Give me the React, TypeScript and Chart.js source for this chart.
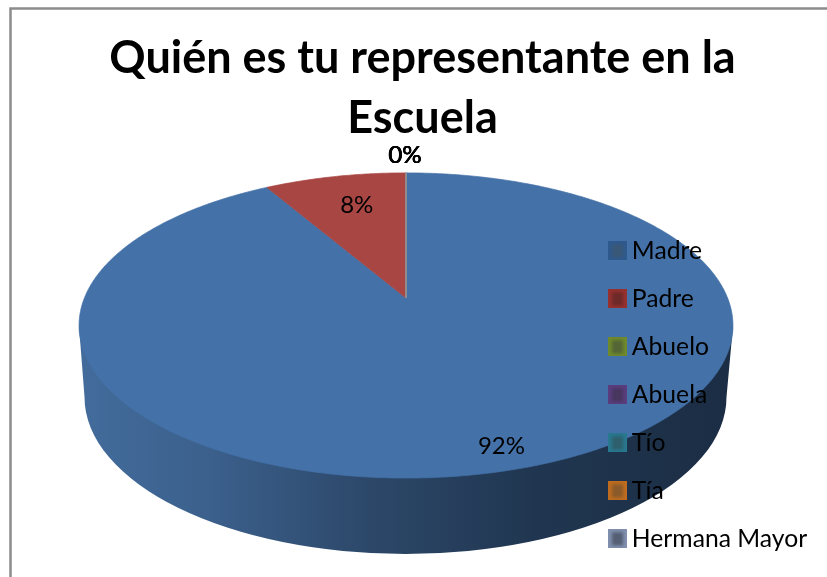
import React, { useEffect, useRef } from "react";
import { Chart, registerables } from "chart.js";

Chart.register(...registerables);

const categories = ["Madre", "Padre", "Abuelo", "Abuela", "Tío", "Tía", "Hermana Mayor"];
const counts = [11, 1, 0, 0, 0, 0, 0];
const titleLines = ["Quién es tu representante en la", "Escuela"];
const sliceColors = ["#4471a7", "#a84644", "#8aa64a", "#6f5690", "#3e96ae", "#d9873c", "#8a9ab8"];
const markerOuter = ["#2f5a8e", "#96312f", "#6f8a2c", "#5a3d7d", "#28788f", "#bf6c1e", "#7f8fad"];
const markerInner = ["#3a5878", "#6e2a28", "#546636", "#48365f", "#2f5f6c", "#8a5a2a", "#555f74"];

const FONT = "Lato";
const FRAME = "#8c8c8c";

// perspective of the pie's top face
const CX = 406;
const APEX_Y = 298;
const K = 321.6;
const A = 94;
const C = -0.18;
const project = (u: number, v: number): [number, number] => {
  const d = C * v + 1;
  return [CX + (K * u) / d, (A * v + APEX_Y) / d];
};

const labelAnchors = [
  { r: 0.88, dx: 9, dy: 0 },
  { r: 0.735, dx: 5, dy: 0 },
  { r: 1.173, dx: -1.4, dy: 0 },
  { r: 1.173, dx: -1, dy: 0 },
  { r: 1.173, dx: -0.8, dy: 0 },
  { r: 1.173, dx: -0.6, dy: 0 },
  { r: 1.173, dx: -1.2, dy: 0 },
];

function makeMarker(outer: string, inner: string) {
  const c = document.createElement("canvas");
  c.width = 19;
  c.height = 19;
  const g = c.getContext("2d")!;
  g.fillStyle = outer;
  g.fillRect(0, 0, 19, 19);
  g.filter = "blur(1.5px)";
  g.fillStyle = inner;
  g.fillRect(4, 3, 11, 13);
  g.filter = "none";
  return c;
}

const piePlugin = {
  id: "perspectivePie",
  afterLayout(chart: any) {
    const lg = chart.legend;
    lg.left = 592.2;
    lg.right = 845;
    lg.top = 215.2;
    lg.bottom = 577;
  },
  beforeDraw(chart: any) {
    const ctx = chart.ctx;
    ctx.save();
    ctx.fillStyle = "#ffffff";
    ctx.fillRect(0, 0, chart.width, chart.height);
    ctx.strokeStyle = FRAME;
    ctx.lineWidth = 2.5;
    ctx.beginPath();
    ctx.moveTo(10.5, chart.height + 5);
    ctx.lineTo(10.5, 8.5);
    ctx.lineTo(chart.width + 5, 8.5);
    ctx.stroke();

    // side wall
    const wall = ctx.createLinearGradient(79, 0, 733, 0);
    wall.addColorStop(0, "#436c9c");
    wall.addColorStop(0.2, "#3b608c");
    wall.addColorStop(0.45, "#2c4768");
    wall.addColorStop(0.7, "#203650");
    wall.addColorStop(1, "#1b2d44");
    ctx.fillStyle = wall;
    ctx.beginPath();
    ctx.moveTo(79, 326);
    ctx.lineTo(84.5, 397);
    ctx.ellipse(405.5, 397, 321, 157, 0, Math.PI, 0, true);
    ctx.lineTo(733, 326);
    ctx.closePath();
    ctx.fill();

    // top face, from the angles computed by the pie controller
    const arcs = chart.getDatasetMeta(0).data;
    const colors = chart.data.datasets[0].backgroundColor;
    arcs.forEach((arc: any, i: number) => {
      const { startAngle, endAngle } = arc;
      const span = endAngle - startAngle;
      const steps = Math.max(1, Math.ceil(span / 0.01));
      ctx.beginPath();
      const o = project(0, 0);
      ctx.moveTo(o[0], o[1]);
      for (let s = 0; s <= steps; s++) {
        const t = startAngle + (span * s) / steps;
        const p = project(Math.cos(t), Math.sin(t));
        ctx.lineTo(p[0], p[1]);
      }
      ctx.closePath();
      ctx.fillStyle = colors[i];
      ctx.fill();
      ctx.strokeStyle = span > 0 ? colors[i] : "#9a9a9a";
      ctx.lineWidth = span > 0 ? 0.7 : 0.35;
      ctx.stroke();
    });
    ctx.restore();
  },
  beforeDatasetsDraw() {
    return false;
  },
  afterDraw(chart: any) {
    const ctx = chart.ctx;
    const arcs = chart.getDatasetMeta(0).data;
    const vals: number[] = chart.data.datasets[0].data;
    const total = vals.reduce((a, b) => a + b, 0);
    ctx.save();
    ctx.font = `24px ${FONT}`;
    ctx.fillStyle = "#000000";
    ctx.textAlign = "center";
    ctx.textBaseline = "middle";
    arcs.forEach((arc: any, i: number) => {
      const mid = (arc.startAngle + arc.endAngle) / 2;
      const a = labelAnchors[i];
      const p = project(Math.cos(mid) * a.r, Math.sin(mid) * a.r);
      ctx.fillText(`${Math.round((vals[i] / total) * 100)}%`, p[0] + a.dx, p[1] + a.dy);
    });
    ctx.restore();
  },
};

export default function App() {
  const ref = useRef<HTMLCanvasElement>(null);
  useEffect(() => {
    const markers = categories.map((_, i) => makeMarker(markerOuter[i], markerInner[i]));
    const chart = new Chart(ref.current!, {
      type: "pie",
      data: {
        labels: categories,
        datasets: [{ data: counts, backgroundColor: sliceColors, borderWidth: 0 }],
      },
      options: {
        responsive: false,
        animation: false,
        layout: { padding: 0 },
        plugins: {
          tooltip: { enabled: false },
          title: {
            display: true,
            text: titleLines,
            color: "#000000",
            font: { family: FONT, size: 45, weight: "bold", lineHeight: 1.34 },
            padding: { top: 28, bottom: 0 },
          },
          legend: {
            display: true,
            position: "right",
            align: "start",
            labels: {
              usePointStyle: true,
              pointStyleWidth: 4,
              color: "#000000",
              font: { family: FONT, size: 24.7 },
              padding: 23.3,
              generateLabels: () =>
                categories.map((text, i) => ({
                  text,
                  pointStyle: markers[i],
                  fillStyle: markerOuter[i],
                  strokeStyle: markerOuter[i],
                  lineWidth: 0,
                  hidden: false,
                  index: i,
                })),
            },
          },
        },
      },
      plugins: [piePlugin],
    } as any);
    return () => chart.destroy();
  }, []);
  return (
    <div style={{ position: "fixed", inset: 0, overflow: "hidden", background: "#fff" }}>
      <canvas ref={ref} width={845} height={577} style={{ display: "block" }} />
    </div>
  );
}
